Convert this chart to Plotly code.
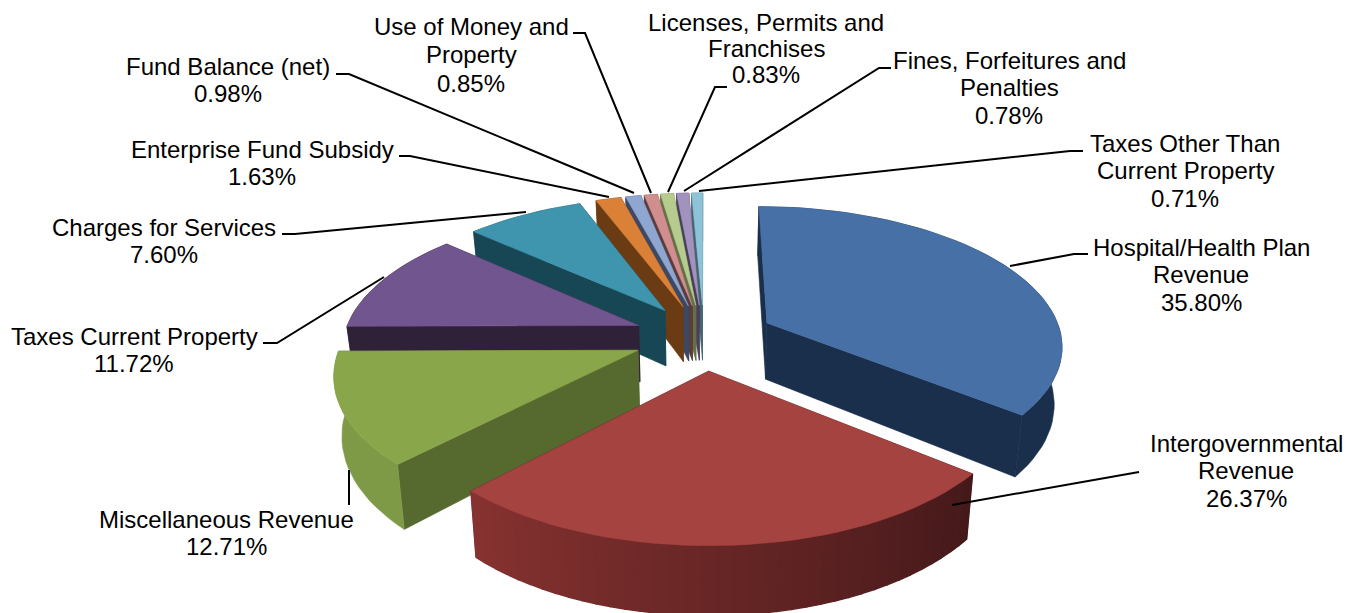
import numpy as np
import plotly.graph_objects as go

# ---- data ----
categories = ["Hospital/Health Plan Revenue", "Intergovernmental Revenue", "Miscellaneous Revenue",
              "Taxes Current Property", "Charges for Services", "Enterprise Fund Subsidy",
              "Fund Balance (net)", "Use of Money and Property", "Licenses, Permits and Franchises",
              "Fines, Forfeitures and Penalties", "Taxes Other Than Current Property"]
values = [35.80, 26.37, 12.71, 11.72, 7.60, 1.63, 0.98, 0.85, 0.83, 0.78, 0.71]

# ---- label layout ----
label_lines = [["Hospital/Health Plan", "Revenue"], ["Intergovernmental", "Revenue"],
               ["Miscellaneous Revenue"], ["Taxes Current Property"], ["Charges for Services"],
               ["Enterprise Fund Subsidy"], ["Fund Balance (net)"], ["Use of Money and", "Property"],
               ["Licenses, Permits and", "Franchises"], ["Fines, Forfeitures and", "Penalties"],
               ["Taxes Other Than", "Current Property"]]
label_x = [1201, 1246, 226, 134, 164, 262, 228, 471, 766, 1009, 1185]
label_y = [247, 443, 519, 336, 227, 149, 66, 26, 22, 60, 143]
label_step = [27.5, 27.5, 27.5, 27.5, 27.5, 27.5, 27.5, 28.5, 26, 27.5, 27.5]
leaders = [[(1088, 254), (1074, 254), (1010, 266)],
           [(1139, 472), (952, 505)],
           [(349, 505), (349, 470)],
           [(263, 343), (277, 343), (384, 277)],
           [(282, 234), (295, 234), (526, 212)],
           [(399, 156), (410, 156), (609, 197)],
           [(336, 74), (349, 74), (634, 193)],
           [(573, 33), (585, 33), (651, 193)],
           [(727, 87), (715, 87), (668, 192)],
           [(891, 68), (879, 68), (684, 191)],
           [(1083, 151), (1070, 151), (699, 191)]]

# ---- styling ----
top_colors = ["#4670A6", "#A54340", "#8AA64A", "#71558E", "#3F95AE", "#DA8137",
              "#8EA6D0", "#D08F8E", "#B5CC8E", "#A293BE", "#8CC3D8"]
wall_start = [(26, 47, 76), (69, 25, 26), (127, 154, 71), (46, 33, 56), (23, 71, 84), (107, 60, 19),
              (60, 72, 100), (90, 60, 60), (100, 112, 70), (72, 62, 92), (70, 100, 112)]
wall_end = [(26, 47, 76), (134, 50, 48), (127, 154, 71), (46, 33, 56), (23, 71, 84), (107, 60, 19),
            (60, 72, 100), (90, 60, 60), (100, 112, 70), (72, 62, 92), (70, 100, 112)]
face_colors = ["#1A2F4C", "#45191A", "#566A30", "#2E2138", "#174754", "#6B3C13",
               "#3C4864", "#5A3C3C", "#647046", "#483E5C", "#466470"]

# ---- projection of the 3-D pie onto the page ----
CX, CY, R, Q, K, EXPL, H, SHRINK = 704, 337, 295, 0.466, 0.148, 0.24, 57, 0.978


def project(X, Y, bottom=False):
    s = 1 / (1 + K * Y)
    x = CX + R * s * X
    y = CY - R * Q * s * Y
    if bottom:
        return CX + (x - CX) * SHRINK, y + H * s
    return x, y


def poly(fig, pts, color, width=0.6):
    xs = [p[0] for p in pts] + [pts[0][0]]
    ys = [p[1] for p in pts] + [pts[0][1]]
    fig.add_trace(go.Scatter(x=xs, y=ys, mode="lines", fill="toself", fillcolor=color,
                             line=dict(color=color, width=width), hoverinfo="skip", showlegend=False))


fig = go.Figure()
fractions = np.array(values) / sum(values)
ends = np.cumsum(fractions) * 2 * np.pi
starts = ends - fractions * 2 * np.pi
mids = (starts + ends) / 2

for i in np.argsort(-np.cos(mids)):
    a0, a1, m = starts[i], ends[i], mids[i]
    ox, oy = EXPL * np.sin(m), EXPL * np.cos(m)
    thetas = np.linspace(a0, a1, max(3, int(np.degrees(a1 - a0) / 2.5) + 2))
    rim = [(ox + np.sin(t), oy + np.cos(t)) for t in thetas]
    # the two cut faces
    for p in sorted((rim[0], rim[-1]), key=lambda q: -q[1]):
        poly(fig, [project(ox, oy), project(*p), project(*p, True), project(ox, oy, True)], face_colors[i])
    # outer wall, shaded along the arc when its two end colours differ
    if wall_start[i] == wall_end[i]:
        c = wall_start[i]
        poly(fig, [project(*p) for p in rim] + [project(*p, True) for p in reversed(rim)],
             f"rgb({c[0]},{c[1]},{c[2]})")
    else:
        for j in range(len(rim) - 1):
            t = j / max(1, len(rim) - 2)
            c = [round(wall_start[i][k] + (wall_end[i][k] - wall_start[i][k]) * t) for k in range(3)]
            poly(fig, [project(*rim[j]), project(*rim[j + 1]),
                       project(*rim[j + 1], True), project(*rim[j], True)],
                 f"rgb({c[0]},{c[1]},{c[2]})", width=1.5)
    # top
    poly(fig, [project(ox, oy)] + [project(*p) for p in rim], top_colors[i])

for pts in leaders:
    fig.add_trace(go.Scatter(x=[p[0] for p in pts], y=[p[1] for p in pts], mode="lines",
                             line=dict(color="#000000", width=2), hoverinfo="skip", showlegend=False))

for lines, v, x, y, step in zip(label_lines, values, label_x, label_y, label_step):
    for n, line in enumerate(lines + [f"{v:.2f}%"]):
        fig.add_annotation(x=x, y=y + n * step, xref="x", yref="y", showarrow=False,
                           xanchor="center", yanchor="middle", align="center", text=line,
                           font=dict(family="Liberation Sans, Arial, sans-serif", size=24, color="#000000"))

# the page has an 8 px body margin, so the axes start at 8 to keep page pixels as data units
fig.update_layout(width=1345, height=605, margin=dict(l=0, r=0, t=0, b=0), showlegend=False,
                  paper_bgcolor="#FFFFFF", plot_bgcolor="#FFFFFF",
                  xaxis=dict(range=[8, 1353], visible=False, fixedrange=True),
                  yaxis=dict(range=[613, 8], visible=False, fixedrange=True))
fig.write_html("out.html")
